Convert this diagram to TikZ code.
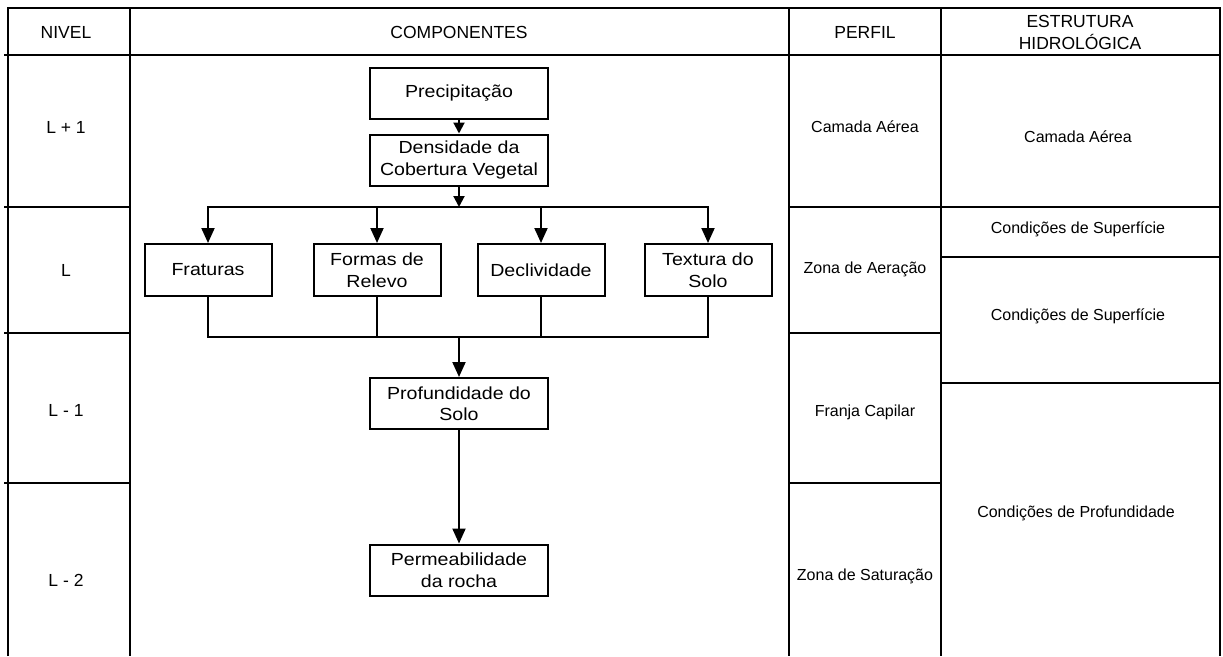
\documentclass[tikz,border=0pt]{standalone}
\usepackage{fontspec}
\setmainfont{Liberation Sans}
\newfontfamily\boxfont{Liberation Sans}[FakeStretch=1.12]
\usetikzlibrary{arrows.meta}
\begin{document}
\begin{tikzpicture}[x=1pt,y=-1pt,
  tbl/.style={line width=2.8pt},
  box/.style={draw,line width=2pt,align=center,font=\boxfont\fontsize{17.5}{21.5}\selectfont,inner sep=0pt},
  cbox/.style={box,minimum width=178pt,minimum height=51pt},
  lbox/.style={box,minimum width=127pt,minimum height=52pt},
  conn/.style={line width=2pt},
  arr/.style={conn,-{Triangle[length=15pt,width=13pt]}},
  sarr/.style={conn,-{Triangle[length=11pt,width=11pt]}},
  hdr/.style={font=\fontsize{17.5}{22}\selectfont,align=center},
  cell/.style={font=\fontsize{16}{19}\selectfont,align=center}]
\useasboundingbox (0,0) rectangle (1223,656);
\fill[white] (0,0) rectangle (1223,656);
% table
\draw[tbl] (8,656) -- (8,8) -- (1220,8) -- (1220,656);
\draw[tbl] (4,55) -- (1220,55);
\foreach \x in {130,789,941} \draw[tbl] (\x,8) -- (\x,656);
\foreach \y in {207,333,483} \draw[tbl] (4,\y) -- (130,\y);
\foreach \y in {207,333,483} \draw[tbl] (789,\y) -- (941,\y);
\foreach \y in {207,257,383} \draw[tbl] (941,\y) -- (1220,\y);
% headers
\node[hdr] (hn) at (66,32) {NIVEL};
\node[hdr] (hc) at (459,32) {COMPONENTES};
\node[hdr] (hp) at (865,32) {PERFIL};
\node[hdr] (he) at (1080,32) {ESTRUTURA\\HIDROLÓGICA};
% levels
\node[hdr] (l1) at (66,127) {L + 1};
\node[hdr] (l0) at (66,270) {L};
\node[hdr] (lm1) at (66,410) {L - 1};
\node[hdr] (lm2) at (66,580) {L - 2};
% perfil
\node[cell] (p1) at (865,127) {Camada Aérea};
\node[cell] (p2) at (865,269) {Zona de Aeração};
\node[cell] (p3) at (865,412) {Franja Capilar};
\node[cell] (p4) at (865,576) {Zona de Saturação};
% estrutura
\node[cell] (e1) at (1078,137) {Camada Aérea};
\node[cell] (e2) at (1078,229) {Condições de Superfície};
\node[cell] (e3) at (1078,316) {Condições de Superfície};
\node[cell] (e4) at (1076,513) {Condições de Profundidade};
% flowchart
\node[cbox] (prec) at (459,93.5) {Precipitação};
\node[cbox] (dens) at (459,160) {Densidade da\\Cobertura Vegetal};
\node[lbox] (frat) at (208,270) {Fraturas};
\node[lbox] (form) at (377,270) {Formas de\\Relevo};
\node[lbox] (decl) at (541,270) {Declividade};
\node[lbox] (text) at (708,270) {Textura do\\Solo};
\node[cbox] (prof) at (459,403.5) {Profundidade do\\Solo};
\node[cbox] (perm) at (459,570) {Permeabilidade\\da rocha};
\coordinate (jt) at (459,207);
\coordinate (jb) at (459,337);
\draw[sarr] (prec) -- (dens);
\draw[sarr] (dens) -- (jt);
\draw[conn,line cap=rect] (frat.north |- jt) -- (text.north |- jt);
\foreach \n in {frat,form,decl,text} \draw[arr] (\n.north |- jt) -- (\n.north);
\foreach \n in {frat,form,decl,text} \draw[conn] (\n.south) -- (\n.south |- jb);
\draw[conn,line cap=rect] (frat.south |- jb) -- (text.south |- jb);
\draw[arr] (jb) -- (prof);
\draw[arr] (prof) -- (perm);
\end{tikzpicture}
\end{document}
